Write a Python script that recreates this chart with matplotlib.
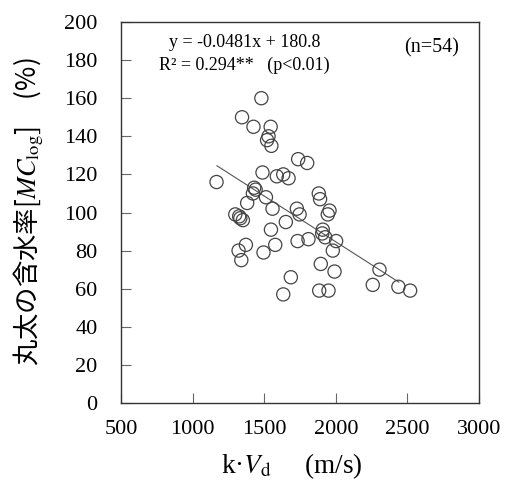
import numpy as np
import matplotlib
matplotlib.use("Agg")
import matplotlib.pyplot as plt

plt.rcParams['font.family'] = ['Liberation Serif', 'Noto Sans CJK JP']
plt.rcParams['mathtext.fontset'] = 'stix'

# k*Vd (m/s) vs log moisture content (%)
kvd = [1480, 1345, 1425, 1545, 1530, 1550, 1737, 1800, 1488, 1588,
       1633, 1670, 1167, 1430, 1421, 1512, 1381, 1558, 1881, 1890,
       1956, 1944, 1728, 1747, 1298, 1333, 1351, 1651, 1547, 1909,
       1926, 2002, 1809, 1733, 1577, 1372, 1321, 1495, 1979, 1340,
       1895, 1991, 2305, 1686, 2258, 2437, 2519, 1884, 1949, 1633,
       1440, 1520, 1905, 1325]
mc_log = [160, 150, 145, 145, 140, 135, 128, 126, 121, 119,
          120, 118, 116, 113, 110, 108, 105, 102, 110, 107,
          101, 99, 102, 99, 99, 97, 96, 95, 91, 91,
          87, 85, 86, 85, 83, 83, 80, 79, 80, 75,
          73, 69, 70, 66, 62, 61, 59, 59, 59, 57,
          112, 138, 89, 98]

# regression: y = -0.0481x + 180.8
slope, intercept = -0.0481, 180.8
fit_range = [1170, 2440]

x_ticks = [500, 1000, 1500, 2000, 2500, 3000]
y_ticks = [0, 20, 40, 60, 80, 100, 120, 140, 160, 180, 200]

fig = plt.figure(figsize=(5.07, 4.84), dpi=100)
ax = fig.add_axes([0.2387, 0.1674, 0.7061, 0.7871])

ax.scatter(kvd, mc_log, s=90, facecolors='none', edgecolors='#444444',
           linewidths=0.9, zorder=3)
fx = np.array(fit_range)
ax.plot(fx, slope * fx + intercept, color='#555555', lw=0.8, zorder=2)

ax.set_xlim(500, 3000)
ax.set_ylim(0, 200)
ax.set_xticks(x_ticks)
ax.set_yticks(y_ticks)
ax.tick_params(direction='in', length=7, width=0.8, color='#666666',
               labelsize=16)
ax.tick_params(axis='x', pad=12)
ax.tick_params(axis='y', pad=17)
for s in ax.spines.values():
    s.set_linewidth(1.0)
    s.set_color('#333333')

ax.text(0.345, 0.945, 'y = -0.0481x + 180.8', transform=ax.transAxes,
        fontsize=13, ha='center', va='center')
ax.text(0.345, 0.885, 'R² = 0.294**   (p<0.01)', transform=ax.transAxes,
        fontsize=13, ha='center', va='center')
ax.text(0.944, 0.932, '(n=54)', transform=ax.transAxes,
        fontsize=14.5, ha='right', va='center')

fig.text(29 / 507, 1 - 212 / 484,
         '丸太の含水率[$MC_{\\mathrm{log}}$]　(%)',
         rotation=90, ha='center', va='center', fontsize=19,
         family=['Noto Sans CJK JP', 'DejaVu Sans'])
fig.text(292 / 507, 1 - 466 / 484, 'k·$V_{\\mathrm{d}}$     (m/s)',
         ha='center', va='center', fontsize=19.5)

fig.savefig('out.png', dpi=100)
